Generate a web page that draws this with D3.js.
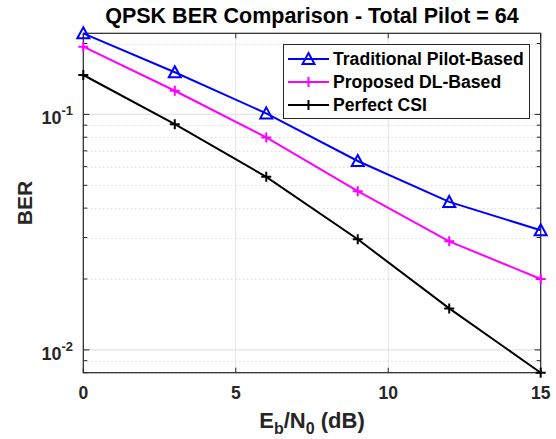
<!DOCTYPE html>
<html>
<head>
<meta charset="utf-8">
<script src="https://cdn.jsdelivr.net/npm/d3@7/dist/d3.min.js"></script>
<style>
body { margin: 0; background: #fff; }
svg text { font-family: "Liberation Sans", Arial, sans-serif; font-weight: bold; fill: #262626; }
</style>
</head>
<body>
<svg id="chart"></svg>
<script>
var snr = [0, 3, 6, 9, 12, 15];
var berTraditional = [0.221, 0.151, 0.101, 0.0634, 0.0425, 0.0322];
var berProposed = [0.194, 0.126, 0.0798, 0.0472, 0.0289, 0.0200];
var berPerfect = [0.147, 0.0909, 0.0543, 0.0295, 0.0150, 0.0080];
var seriesNames = ["Traditional Pilot-Based", "Proposed DL-Based", "Perfect CSI"];
var xTicks = [0, 5, 10, 15];
var yMajor = [0.1, 0.01];
var yMinor = [0.2, 0.09, 0.08, 0.07, 0.06, 0.05, 0.04, 0.03, 0.02, 0.009, 0.008];

var width = 556, height = 439;
var pLeft = 83.3, pRight = 540.7, pTop = 33.3, pBottom = 372.7;

var svg = d3.select("#chart").attr("width", width).attr("height", height);

var all = berTraditional.concat(berProposed, berPerfect);
var x = d3.scaleLinear().domain([0, 15]).range([pLeft, pRight]);
var y = d3.scaleLog().domain([d3.min(all), d3.max(all)]).range([pBottom, pTop]);

// grid
var grid = svg.append("g");
grid.selectAll(".gx").data(xTicks).enter().append("line")
	.attr("x1", d => x(d)).attr("x2", d => x(d))
	.attr("y1", pTop).attr("y2", pBottom)
	.style("stroke", "#e3e3e3").style("stroke-width", 1);
grid.selectAll(".gy").data(yMajor).enter().append("line")
	.attr("x1", pLeft).attr("x2", pRight)
	.attr("y1", d => y(d)).attr("y2", d => y(d))
	.style("stroke", "#e3e3e3").style("stroke-width", 1.2);
grid.selectAll(".gm").data(yMinor).enter().append("line")
	.attr("x1", pLeft).attr("x2", pRight)
	.attr("y1", d => Math.round(y(d)) + 0.5).attr("y2", d => Math.round(y(d)) + 0.5)
	.style("stroke", "#d0d0d0").style("stroke-width", 1)
	.style("stroke-dasharray", "1,3");

// ticks (inward, all four sides)
var ticks = svg.append("g").style("stroke", "#262626").style("stroke-width", 1);
xTicks.forEach(function(d) {
	ticks.append("line").attr("x1", x(d)).attr("x2", x(d)).attr("y1", pBottom).attr("y2", pBottom - 5);
	ticks.append("line").attr("x1", x(d)).attr("x2", x(d)).attr("y1", pTop).attr("y2", pTop + 5);
});
yMajor.forEach(function(d) {
	ticks.append("line").attr("x1", pLeft).attr("x2", pLeft + 6).attr("y1", y(d)).attr("y2", y(d));
	ticks.append("line").attr("x1", pRight).attr("x2", pRight - 6).attr("y1", y(d)).attr("y2", y(d));
});
yMinor.forEach(function(d) {
	ticks.append("line").attr("x1", pLeft).attr("x2", pLeft + 4).attr("y1", y(d)).attr("y2", y(d));
	ticks.append("line").attr("x1", pRight).attr("x2", pRight - 4).attr("y1", y(d)).attr("y2", y(d));
});

// axes box
svg.append("rect")
	.attr("x", pLeft).attr("y", pTop)
	.attr("width", pRight - pLeft).attr("height", pBottom - pTop)
	.style("fill", "none").style("stroke", "#262626").style("stroke-width", 1.2);

// tick labels
svg.selectAll(".xl").data(xTicks).enter().append("text")
	.attr("x", d => x(d)).attr("y", 399)
	.attr("text-anchor", "middle").style("font-size", "17.5px")
	.text(d => d);
yMajor.forEach(function(d) {
	var t = svg.append("text").attr("x", 73).attr("y", y(d) + 10)
		.attr("text-anchor", "end").style("font-size", "18px");
	t.append("tspan").text("10");
	t.append("tspan").attr("dy", -9).style("font-size", "13px").text(Math.round(Math.log10(d)));
});

// axis labels and title
var xl = svg.append("text").attr("x", (pLeft + pRight) / 2).attr("y", 428)
	.attr("text-anchor", "middle").style("font-size", "22px");
xl.append("tspan").text("E");
xl.append("tspan").attr("dy", 6).style("font-size", "16px").text("b");
xl.append("tspan").attr("dy", -6).text("/N");
xl.append("tspan").attr("dy", 6).style("font-size", "16px").text("0");
xl.append("tspan").attr("dy", -6).text(" (dB)");

svg.append("text")
	.attr("transform", "translate(32," + ((pTop + pBottom) / 2) + ") rotate(-90)")
	.attr("text-anchor", "middle").style("font-size", "21px").text("BER");

svg.append("text").attr("x", (pLeft + pRight) / 2).attr("y", 23)
	.attr("text-anchor", "middle").style("font-size", "21.5px").style("fill", "#000")
	.text("QPSK BER Comparison - Total Pilot = 64");

// series
var series = [
	{ name: seriesNames[0], values: berTraditional, color: "#0000ff", marker: "tri" },
	{ name: seriesNames[1], values: berProposed, color: "#ff00ff", marker: "plus" },
	{ name: seriesNames[2], values: berPerfect, color: "#000000", marker: "plus" }
];

var line = d3.line().x((d, i) => x(snr[i])).y(d => y(d));

function drawMarker(g, cx, cy, s) {
	if (s.marker === "tri") {
		g.append("path")
			.attr("d", "M" + cx + "," + (cy - 6) + "L" + (cx + 6) + "," + (cy + 5) + "L" + (cx - 6) + "," + (cy + 5) + "Z")
			.style("fill", "none").style("stroke", s.color).style("stroke-width", 2);
	} else {
		g.append("path")
			.attr("d", "M" + (cx - 5) + "," + cy + "H" + (cx + 5) + "M" + cx + "," + (cy - 5) + "V" + (cy + 5))
			.style("fill", "none").style("stroke", s.color).style("stroke-width", 2);
	}
}

series.slice().reverse().forEach(function(s) {
	var g = svg.append("g");
	g.append("path").datum(s.values).attr("d", line)
		.style("fill", "none").style("stroke", s.color).style("stroke-width", 2);
	s.values.forEach(function(v, i) { drawMarker(g, x(snr[i]), y(v), s); });
});

// legend
var lg = svg.append("g");
lg.append("rect").attr("x", 283.5).attr("y", 44.5).attr("width", 246).attr("height", 74)
	.style("fill", "#fff").style("stroke", "#262626").style("stroke-width", 1);
series.forEach(function(s, i) {
	var yy = 59 + i * 23;
	lg.append("line").attr("x1", 288).attr("x2", 329).attr("y1", yy).attr("y2", yy)
		.style("stroke", s.color).style("stroke-width", 2);
	drawMarker(lg, 308.5, yy, s);
	lg.append("text").attr("x", 333).attr("y", yy + 6).style("font-size", "17.6px").style("fill", "#000")
		.text(s.name);
});
</script>
</body>
</html>
